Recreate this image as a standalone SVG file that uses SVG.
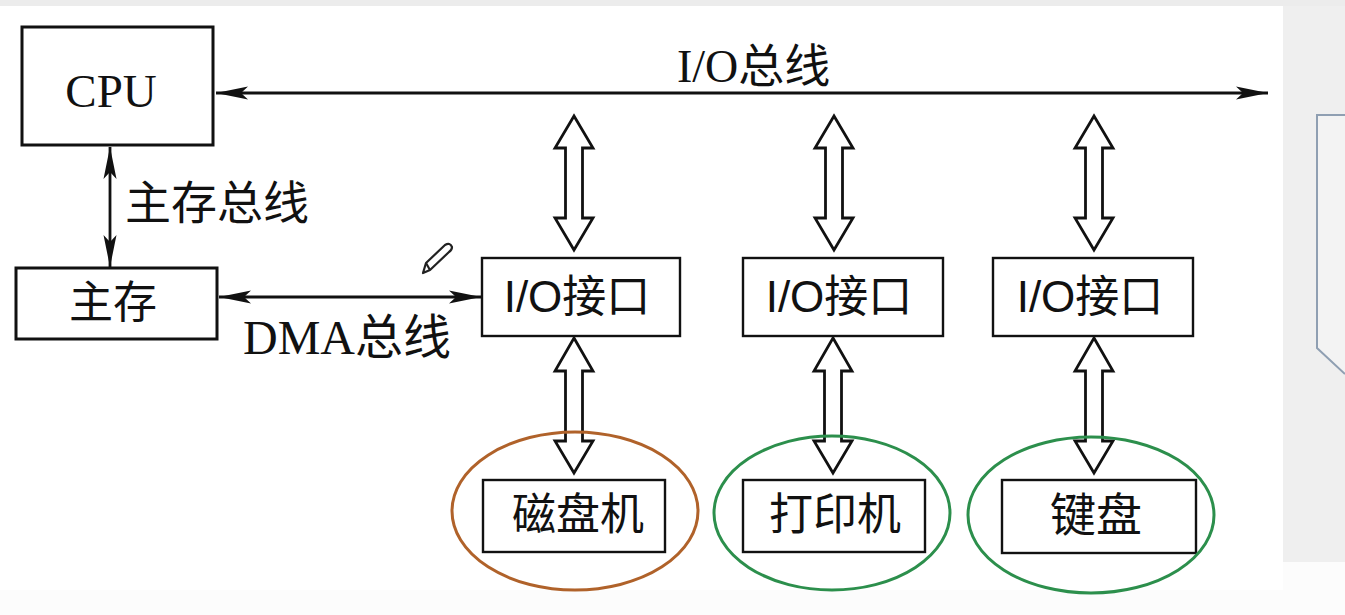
<svg xmlns="http://www.w3.org/2000/svg" width="1345" height="615" viewBox="0 0 1345 615">
<defs>
<style>
.box{fill:#fff;stroke:#111;stroke-width:3}
.thin{fill:#fff;stroke:#111;stroke-width:2.4}
.serif{font-family:"Liberation Serif","Noto Sans CJK SC",serif;fill:#111}
.sans{font-family:"Liberation Sans","Noto Sans CJK SC",sans-serif;fill:#111}
.line{stroke:#111;stroke-width:2.8;fill:none}
.hollow{fill:#fff;stroke:#111;stroke-width:2.8;stroke-linejoin:miter}
</style>
<marker id="ah" markerUnits="userSpaceOnUse" markerWidth="34" markerHeight="14" refX="32" refY="7" orient="auto-start-reverse" viewBox="0 0 34 14">
<path d="M0,0.5 L32,7 L0,13.5 L7,7 Z" fill="#111"/>
</marker>
</defs>
<rect x="0" y="0" width="1345" height="615" fill="#fcfcfc"/>
<rect x="0" y="0" width="1345" height="6" fill="#ececec"/>
<rect x="0" y="6" width="1283" height="584" fill="#ffffff"/>
<rect x="1283" y="6" width="62" height="556" fill="#efefef"/>
<path d="M1345,115 L1317,115 L1317,348 L1345,374" fill="#f3f3f3" stroke="#8f9fb2" stroke-width="2"/>

<g id="connectors">
<line class="line" x1="216" y1="93" x2="1268" y2="93" marker-start="url(#ah)" marker-end="url(#ah)"/>
<line class="line" x1="110" y1="147" x2="110" y2="267" marker-start="url(#ah)" marker-end="url(#ah)"/>
<line class="line" x1="219" y1="297" x2="481" y2="297" marker-start="url(#ah)" marker-end="url(#ah)"/>
<path class="hollow" d="M574,116 L593,148 L582.5,148 L582.5,218 L593,218 L574,250 L555,218 L565.5,218 L565.5,148 L555,148 Z"/>
<path class="hollow" d="M834,116 L853,148 L842.5,148 L842.5,218 L853,218 L834,250 L815,218 L825.5,218 L825.5,148 L815,148 Z"/>
<path class="hollow" d="M1094,116 L1113,148 L1102.5,148 L1102.5,218 L1113,218 L1094,250 L1075,218 L1085.5,218 L1085.5,148 L1075,148 Z"/>
<path class="hollow" d="M574,338 L593,371 L582.5,371 L582.5,441 L593,441 L574,473 L555,441 L565.5,441 L565.5,371 L555,371 Z"/>
<path class="hollow" d="M833,338 L852,371 L841.5,371 L841.5,441 L852,441 L833,473 L814,441 L824.5,441 L824.5,371 L814,371 Z"/>
<path class="hollow" d="M1094,338 L1113,371 L1102.5,371 L1102.5,441 L1113,441 L1094,473 L1075,441 L1085.5,441 L1085.5,371 L1075,371 Z"/>
<text class="serif" x="677" y="82" font-size="46">I/O总线</text>
<text class="serif" x="125" y="219" font-size="46">主存总线</text>
<text class="serif" x="243" y="354" font-size="48">DMA总线</text>
</g>

<g id="cpu">
<rect class="box" x="22" y="27" width="191" height="118"/>
<text class="serif" x="111" y="107" font-size="47" text-anchor="middle">CPU</text>
</g>
<g id="main-memory">
<rect class="box" x="16" y="268" width="201" height="71"/>
<text class="serif" x="113" y="318" font-size="44" text-anchor="middle">主存</text>
</g>
<g id="io1">
<rect class="thin" x="482" y="258" width="198" height="78"/>
<text class="sans" x="577" y="312" font-size="44" text-anchor="middle">I/O接口</text>
</g>
<g id="io2">
<rect class="thin" x="743" y="258" width="200" height="78"/>
<text class="sans" x="839" y="312" font-size="44" text-anchor="middle">I/O接口</text>
</g>
<g id="io3">
<rect class="thin" x="993" y="258" width="200" height="78"/>
<text class="sans" x="1090" y="312" font-size="44" text-anchor="middle">I/O接口</text>
</g>
<g id="disk">
<rect class="thin" x="483" y="480" width="182" height="72"/>
<text class="serif" x="578" y="530" font-size="44" text-anchor="middle">磁盘机</text>
</g>
<g id="printer">
<rect class="thin" x="743" y="480" width="182" height="72"/>
<text class="serif" x="835" y="530" font-size="44" text-anchor="middle">打印机</text>
</g>
<g id="keyboard">
<rect class="thin" x="1002" y="480" width="194" height="73"/>
<text class="serif" x="1096" y="531" font-size="46" text-anchor="middle">键盘</text>
</g>
<g id="highlights" fill="none" stroke-width="3">
<ellipse cx="575" cy="511" rx="123" ry="79" stroke="#b0622a"/>
<ellipse cx="832" cy="513" rx="118" ry="77" stroke="#2c8f4c"/>
<ellipse cx="1091" cy="515" rx="123" ry="78" stroke="#2c8f4c"/>
</g>
<g id="pencil" fill="none" stroke="#222" stroke-width="2.2" stroke-linejoin="round">
<path d="M423,273 L426,263 L445,245 Q450,242 452,247 Q452,250 449,252 L430,270 Z"/>
<line x1="426" y1="263" x2="430" y2="270"/>
</g>
</svg>
